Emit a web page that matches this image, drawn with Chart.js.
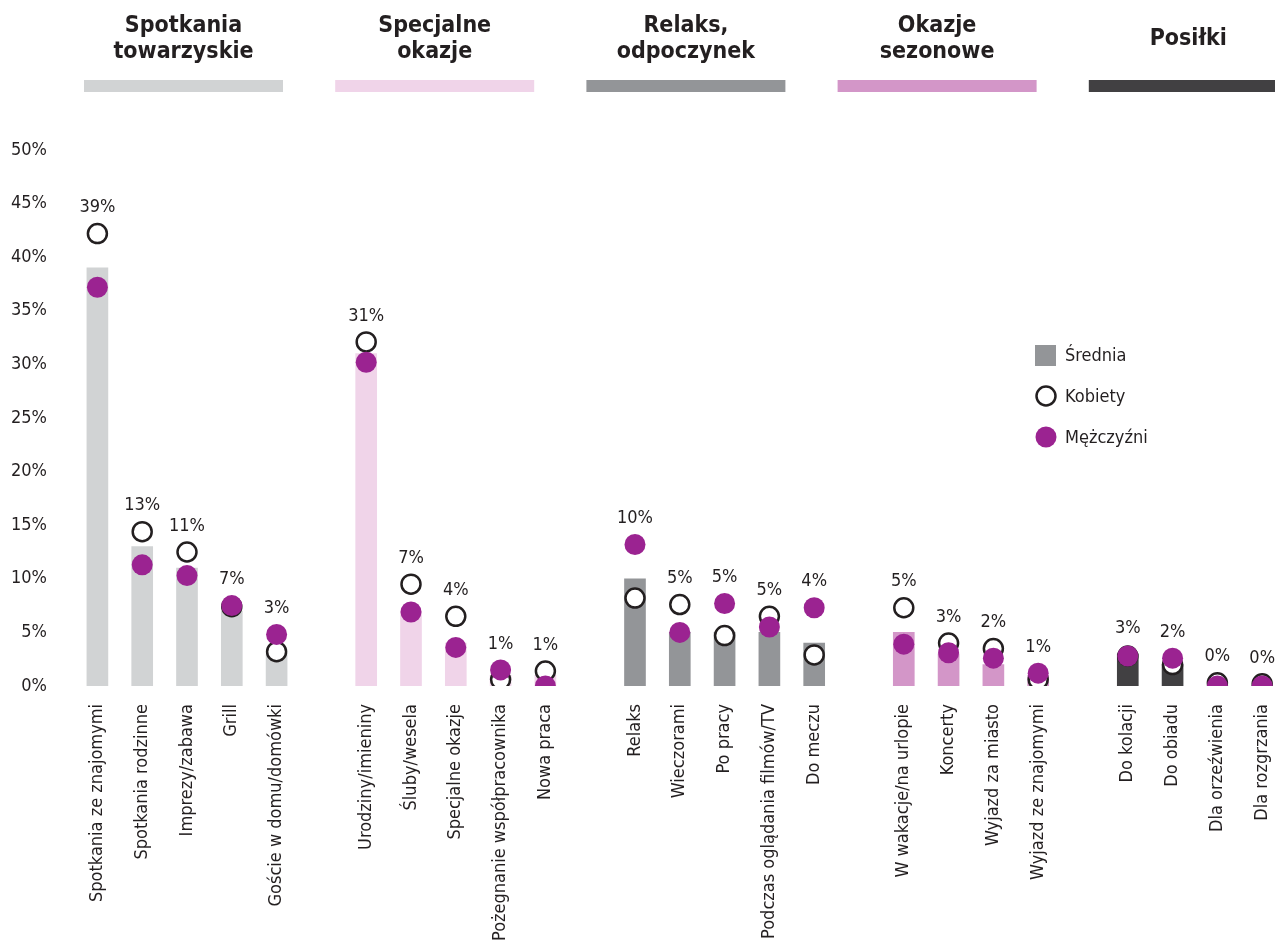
<!DOCTYPE html>
<html lang="pl">
<head>
<meta charset="utf-8">
<title>Okazje</title>
<script src="https://cdn.jsdelivr.net/npm/chart.js@4.4.1/dist/chart.umd.min.js"></script>
<style>
  html, body { margin: 0; padding: 0; background: #fff; overflow: hidden; }
  #wrap { position: relative; width: 1302px; height: 940px; }
</style>
</head>
<body>
<div id="wrap"><canvas id="chart"></canvas></div>
<script>
'use strict';

var groupNames = [
  ['Spotkania', 'towarzyskie'],
  ['Specjalne', 'okazje'],
  ['Relaks,', 'odpoczynek'],
  ['Okazje', 'sezonowe'],
  ['Posiłki']
];
var groupSizes = [5, 5, 5, 4, 4];

var categories = [
  'Spotkania ze znajomymi', 'Spotkania rodzinne', 'Imprezy/zabawa', 'Grill', 'Goście w domu/domówki',
  'Urodziny/imieniny', 'Śluby/wesela', 'Specjalne okazje', 'Pożegnanie współpracownika', 'Nowa praca',
  'Relaks', 'Wieczorami', 'Po pracy', 'Podczas oglądania filmów/TV', 'Do meczu',
  'W wakacje/na urlopie', 'Koncerty', 'Wyjazd za miasto', 'Wyjazd ze znajomymi',
  'Do kolacji', 'Do obiadu', 'Dla orzeźwienia', 'Dla rozgrzania'
];

var average = [39, 13, 11, 7, 3,  31, 7, 4, 1, 1,  10, 5, 5, 5, 4,  5, 3, 2, 1,  3, 2, 0, 0];
var women   = [42.2, 14.4, 12.5, 7.4, 3.2,  32.1, 9.5, 6.5, 0.6, 1.4,  8.2, 7.6, 4.7, 6.5, 2.9,  7.3, 4.0, 3.5, 0.6,  2.8, 2.0, 0.3, 0.2];
var men     = [37.2, 11.3, 10.3, 7.5, 4.8,  30.2, 6.9, 3.6, 1.5, 0.0,  13.2, 5.0, 7.7, 5.5, 7.3,  3.9, 3.1, 2.6, 1.2,  2.8, 2.6, 0.0, 0.0];

var yTicks = [0, 5, 10, 15, 20, 25, 30, 35, 40, 45, 50];

var groupColors = ['#d1d3d4', '#f0d4e9', '#939598', '#d396c8', '#414042'];
var INK = '#231f20';
var PURPLE = '#9b2391';
var FONT = '"Liberation Sans Narrow", "DejaVu Sans Condensed", sans-serif';

// spread the categories out with an empty slot between the groups
var labels = [], avgData = [], womenData = [], menData = [], barColors = [];
var k = 0;
groupSizes.forEach(function(n, g) {
  if (g > 0) {
    labels.push(''); avgData.push(null); womenData.push(null); menData.push(null); barColors.push('rgba(0,0,0,0)');
  }
  for (var i = 0; i < n; i++, k++) {
    labels.push(categories[k]);
    avgData.push(average[k]);
    womenData.push(women[k]);
    menData.push(men[k]);
    barColors.push(groupColors[g]);
  }
});

var decorations = {
  id: 'decorations',
  afterDatasetsDraw: function(chart) {
    var ctx = chart.ctx;
    var x = chart.scales.x, y = chart.scales.y;

    // percentage labels above the highest mark of each category
    ctx.save();
    ctx.fillStyle = INK;
    ctx.font = '18px ' + FONT;
    ctx.textAlign = 'center';
    ctx.textBaseline = 'middle';
    avgData.forEach(function(v, i) {
      if (v === null) return;
      var top = Math.max(v, womenData[i], menData[i]);
      ctx.fillText(v + '%', x.getPixelForValue(i), y.getPixelForValue(top) - 26);
    });
    ctx.restore();
  },
  afterDraw: function(chart) {
    var ctx = chart.ctx;
    ctx.save();

    // group headers with coloured stripes
    groupNames.forEach(function(lines, g) {
      var left = 84 + g * 251.2;
      ctx.fillStyle = groupColors[g];
      ctx.fillRect(left, 80, 199, 12);
      ctx.fillStyle = INK;
      ctx.font = 'bold 23px ' + FONT;
      ctx.textAlign = 'center';
      ctx.textBaseline = 'middle';
      if (lines.length === 1) {
        ctx.fillText(lines[0], left + 99.5, 39);
      } else {
        ctx.fillText(lines[0], left + 99.5, 26);
        ctx.fillText(lines[1], left + 99.5, 52);
      }
    });

    // legend
    var ds = chart.data.datasets;
    ctx.font = '18px ' + FONT;
    ctx.textAlign = 'left';
    ctx.textBaseline = 'middle';
    ctx.fillStyle = groupColors[2];
    ctx.fillRect(1035, 345, 21, 21);
    ctx.fillStyle = INK;
    ctx.fillText(ds[0].label, 1065, 356);

    ctx.beginPath();
    ctx.arc(1046, 396, 9.5, 0, Math.PI * 2);
    ctx.fillStyle = '#fff';
    ctx.fill();
    ctx.lineWidth = 2.5;
    ctx.strokeStyle = INK;
    ctx.stroke();
    ctx.fillStyle = INK;
    ctx.fillText(ds[1].label, 1065, 397);

    ctx.beginPath();
    ctx.arc(1046, 437, 10.5, 0, Math.PI * 2);
    ctx.fillStyle = PURPLE;
    ctx.fill();
    ctx.fillStyle = INK;
    ctx.fillText(ds[2].label, 1065, 438);

    ctx.restore();
  }
};

new Chart(document.getElementById('chart'), {
  type: 'bar',
  data: {
    labels: labels,
    datasets: [
      {
        label: 'Średnia',
        data: avgData,
        backgroundColor: barColors,
        barThickness: 21,
        order: 3
      },
      {
        type: 'line',
        label: 'Kobiety',
        data: womenData,
        showLine: false,
        pointRadius: 9.5,
        pointHoverRadius: 9.5,
        pointBackgroundColor: '#fff',
        pointBorderColor: INK,
        pointBorderWidth: 2.5,
        order: 2
      },
      {
        type: 'line',
        label: 'Mężczyźni',
        data: menData,
        showLine: false,
        pointRadius: 10.5,
        pointHoverRadius: 10.5,
        pointBackgroundColor: PURPLE,
        pointBorderWidth: 0,
        order: 1
      }
    ]
  },
  options: {
    responsive: true,
    maintainAspectRatio: false,
    animation: false,
    layout: { padding: { top: 150, left: 0, right: 0, bottom: 0 } },
    plugins: {
      legend: { display: false },
      tooltip: { enabled: false }
    },
    scales: {
      x: {
        offset: true,
        grid: { display: false, drawTicks: false },
        border: { display: false },
        ticks: {
          autoSkip: false,
          minRotation: 90,
          maxRotation: 90,
          padding: 18,
          color: INK,
          font: { family: FONT, size: 18 }
        },
        afterFit: function(scale) { scale.height = 254; }
      },
      y: {
        min: 0,
        max: 50,
        afterBuildTicks: function(scale) {
          scale.ticks = yTicks.map(function(v) { return { value: v }; });
        },
        grid: { display: false, drawTicks: false },
        border: { display: false },
        ticks: {
          padding: 28,
          color: INK,
          font: { family: FONT, size: 18 },
          callback: function(v) { return v + '%'; }
        },
        afterFit: function(scale) { scale.width = 75; }
      }
    }
  },
  plugins: [decorations]
});
</script>
</body>
</html>
